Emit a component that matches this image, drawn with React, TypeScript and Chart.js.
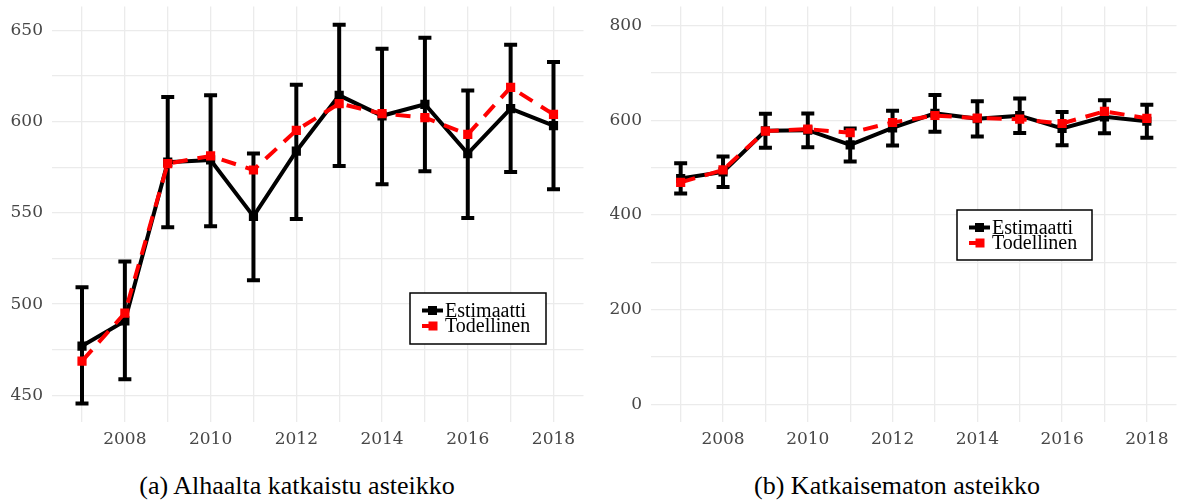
import React, { useEffect, useRef } from 'react';
import { Chart, registerables } from 'chart.js';

Chart.register(...registerables);

// ---- data ----
const years = [2007, 2008, 2009, 2010, 2011, 2012, 2013, 2014, 2015, 2016, 2017, 2018];
const estimaatti = [477.0, 490.8, 577.8, 579.0, 548.1, 583.8, 614.4, 603.2, 609.5, 582.5, 607.1, 597.8];
const todellinen = [468.8, 495.1, 577.0, 581.2, 573.5, 595.2, 609.9, 604.4, 602.2, 593.0, 618.8, 604.0];
const lowerCI = [445.5, 458.8, 542.1, 542.7, 513.1, 546.7, 575.7, 565.7, 572.8, 547.2, 572.4, 563.0];
const upperCI = [509.3, 523.4, 613.5, 614.4, 582.5, 620.2, 653.1, 640.0, 646.0, 617.1, 642.1, 632.7];

const leftYTicks = [450, 475, 500, 525, 550, 575, 600, 625, 650];
const rightYTicks = [0, 100, 200, 300, 400, 500, 600, 700, 800];

const seriesNames = ['Estimaatti', 'Todellinen'];
const captionA = '(a) Alhaalta katkaistu asteikko';
const captionB = '(b) Katkaisematon asteikko';

const TICK_FONT = { family: 'DejaVu Serif', size: 17 };
const TICK_COLOR = '#474747';
const GRID_COLOR = '#ebebeb';

type PanelProps = {
  left: number;
  width: number;
  yMin: number;
  yMax: number;
  yTicks: number[];
  yLabelStep: number;
  yAxisWidth: number;
  padRight: number;
  legendBox: { x: number; y: number; w: number; h: number };
};

function Panel(p: PanelProps) {
  const ref = useRef<HTMLCanvasElement>(null);

  useEffect(() => {
    if (!ref.current) return;

    const errorBars = {
      id: 'errorBars',
      beforeDatasetsDraw(chart: any) {
        const { ctx, scales, chartArea } = chart;
        const xs = scales.x;
        const ys = scales.y;
        ctx.save();
        ctx.beginPath();
        ctx.rect(chartArea.left, chartArea.top, chartArea.right - chartArea.left, chartArea.bottom - chartArea.top);
        ctx.clip();
        ctx.strokeStyle = '#000000';
        ctx.lineWidth = 4;
        ctx.lineCap = 'butt';
        years.forEach((yr, i) => {
          const px = xs.getPixelForValue(yr);
          const top = ys.getPixelForValue(upperCI[i]);
          const bot = ys.getPixelForValue(lowerCI[i]);
          ctx.beginPath();
          ctx.moveTo(px, top);
          ctx.lineTo(px, bot);
          ctx.moveTo(px - 6.5, top);
          ctx.lineTo(px + 6.5, top);
          ctx.moveTo(px - 6.5, bot);
          ctx.lineTo(px + 6.5, bot);
          ctx.stroke();
        });
        ctx.restore();
      },
    };

    const boxLegend = {
      id: 'boxLegend',
      afterDraw(chart: any) {
        const { ctx } = chart;
        const b = p.legendBox;
        ctx.save();
        ctx.fillStyle = '#ffffff';
        ctx.fillRect(b.x, b.y, b.w, b.h);
        ctx.strokeStyle = '#000000';
        ctx.lineWidth = 1.5;
        ctx.strokeRect(b.x, b.y, b.w, b.h);
        const rows = [
          { name: seriesNames[0], color: '#000000', y: b.y + 17.5, full: true },
          { name: seriesNames[1], color: '#ff0000', y: b.y + 33, full: false },
        ];
        rows.forEach((r) => {
          const x0 = b.x + 12;
          const x1 = b.x + 33;
          ctx.strokeStyle = r.color;
          ctx.fillStyle = r.color;
          ctx.lineWidth = 4;
          ctx.beginPath();
          if (r.full) {
            ctx.moveTo(x0, r.y);
            ctx.lineTo(x1, r.y);
          } else {
            ctx.moveTo(x0, r.y);
            ctx.lineTo(x0 + 14, r.y);
          }
          ctx.stroke();
          const cx = r.full ? (x0 + x1) / 2 : x0 + 11;
          ctx.fillRect(cx - 4.5, r.y - 4.5, 9, 9);
          ctx.fillStyle = '#000000';
          ctx.font = "20px 'Liberation Serif', serif";
          ctx.textBaseline = 'middle';
          ctx.textAlign = 'left';
          ctx.fillText(r.name, b.x + 35, r.y + 1);
        });
        ctx.restore();
      },
    };

    const chart = new Chart(ref.current, {
      type: 'line',
      data: {
        datasets: [
          {
            label: seriesNames[1],
            data: years.map((x, i) => ({ x, y: todellinen[i] })),
            borderColor: '#ff0000',
            backgroundColor: '#ff0000',
            borderWidth: 4,
            borderDash: [15, 10],
            pointStyle: 'rect',
            pointRadius: 6.5,
            pointBorderWidth: 0,
            pointBackgroundColor: '#ff0000',
            tension: 0,
            order: 0,
          },
          {
            label: seriesNames[0],
            data: years.map((x, i) => ({ x, y: estimaatti[i] })),
            borderColor: '#000000',
            backgroundColor: '#000000',
            borderWidth: 4,
            pointStyle: 'rect',
            pointRadius: 6.5,
            pointBorderWidth: 0,
            pointBackgroundColor: '#000000',
            tension: 0,
            order: 1,
          },
        ],
      },
      options: {
        animation: false,
        responsive: false,
        layout: { padding: { top: 6, right: p.padRight, left: 0, bottom: 0 } },
        plugins: { legend: { display: false }, tooltip: { enabled: false } },
        scales: {
          x: {
            type: 'linear',
            min: 2006.3,
            max: 2018.7,
            afterBuildTicks: (s: any) => {
              s.ticks = years.map((v) => ({ value: v }));
            },
            afterFit: (s: any) => {
              s.height = 30;
              s.paddingLeft = 0;
              s.paddingRight = 0;
            },
            grid: { color: GRID_COLOR, lineWidth: 1.3, drawTicks: false },
            border: { display: false },
            ticks: {
              autoSkip: false,
              maxRotation: 0,
              padding: 7,
              color: TICK_COLOR,
              font: TICK_FONT,
              callback: (v: any) => (Number(v) % 2 === 0 ? String(v) : ''),
            },
          },
          y: {
            type: 'linear',
            min: p.yMin,
            max: p.yMax,
            afterBuildTicks: (s: any) => {
              s.ticks = p.yTicks.map((v) => ({ value: v }));
            },
            afterFit: (s: any) => {
              s.width = p.yAxisWidth;
              s.paddingTop = 0;
              s.paddingBottom = 0;
            },
            grid: { color: GRID_COLOR, lineWidth: 1.3, drawTicks: false },
            border: { display: false },
            ticks: {
              autoSkip: false,
              padding: 9,
              color: TICK_COLOR,
              font: TICK_FONT,
              callback: (v: any) => (Number(v) % p.yLabelStep === 0 ? String(v) : ''),
            },
          },
        },
      },
      plugins: [errorBars, boxLegend],
    } as any);

    return () => chart.destroy();
  }, []);

  return (
    <div style={{ position: 'absolute', left: p.left, top: 0, width: p.width, height: 452 }}>
      <canvas ref={ref} width={p.width} height={452} style={{ width: p.width, height: 452, display: 'block' }} />
    </div>
  );
}

const captionStyle: React.CSSProperties = {
  position: 'absolute',
  top: 471,
  fontFamily: "'Liberation Serif', serif",
  fontSize: 26,
  lineHeight: '30px',
  color: '#000000',
  whiteSpace: 'nowrap',
  transform: 'translateX(-50%)',
};

export default function App() {
  return (
    <div style={{ position: 'fixed', left: 0, top: 0, width: 1183, height: 502, background: '#ffffff', overflow: 'hidden' }}>
      <Panel
        left={0}
        width={590}
        yMin={435.4}
        yMax={663.1}
        yTicks={leftYTicks}
        yLabelStep={50}
        yAxisWidth={52}
        padRight={6}
        legendBox={{ x: 410, y: 293, w: 136, h: 51 }}
      />
      <Panel
        left={590}
        width={593}
        yMin={-37}
        yMax={840}
        yTicks={rightYTicks}
        yLabelStep={200}
        yAxisWidth={61}
        padRight={0}
        legendBox={{ x: 367, y: 210, w: 135, h: 50 }}
      />
      <div style={{ ...captionStyle, left: 297 }}>{captionA}</div>
      <div style={{ ...captionStyle, left: 897 }}>{captionB}</div>
    </div>
  );
}
